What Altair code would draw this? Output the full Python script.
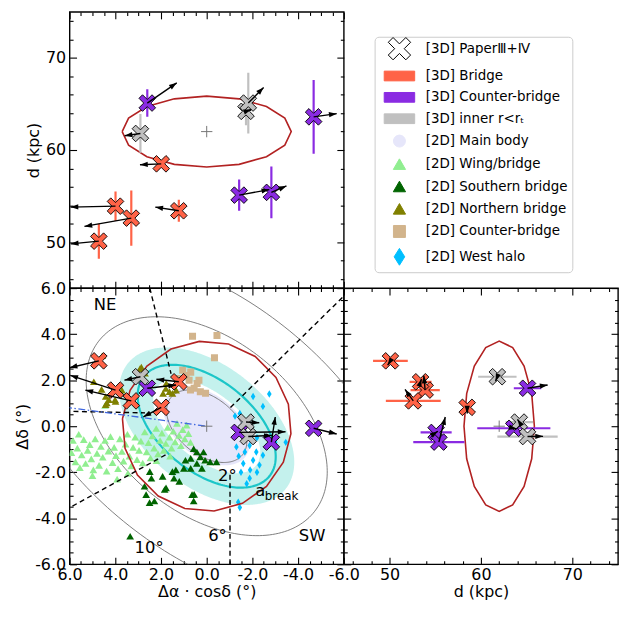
import numpy as np
import pandas as pd
import altair as alt

FONT = "DejaVu Sans"
W, H = 276, 278

TOMATO = "#ff6347"; VIOLET = "#8a2be2"; SILVER = "#c0c0c0"
LAVENDER = "#e6e6fa"; LGREEN = "#90ee90"; DGREEN = "#006400"; OLIVE = "#808000"
TAN = "#d2b48c"; SKY = "#00bfff"; BAND = "#c4f1ed"; TEAL = "#1cc6c8"; FIRE = "#b22222"
GRAYL = "#707070"

# ---------------- 3D stars ----------------
star_group = ["Bridge"] * 5 + ["Counter"] * 4 + ["Inner"] * 3
star_ra = [1.99, 3.99, 3.30, 4.72, 1.22, 2.60, -1.42, -2.83, -4.68, 2.90, -1.72, -1.82]
star_dec = [0.82, 1.57, 1.10, 2.84, 1.93, 1.65, -0.27, -0.69, -0.09, 2.15, 0.18, -0.45]
star_d = [58.5, 53.9, 52.6, 50.1, 53.4, 65.1, 55.1, 55.4, 63.6, 61.8, 64.2, 65.1]
star_derr = [0.4, 1.6, 3.0, 1.9, 1.2, 1.5, 1.7, 2.8, 4.0, 2.1, 1.5, 3.3]

# arrow ends per panel
tl_ra_end = [2.92, 5.96, 5.35, 5.95, 2.25, 1.31, -2.74, -3.49, -5.69, 3.59, -1.95, -2.49]
tl_d_end = [58.4, 53.8, 51.7, 49.8, 53.8, 67.3, 55.7, 56.1, 63.95, 61.55, 64.4, 66.8]
bl_ra_end = [2.77, 5.97, 5.31, 6.0, 2.20, 1.34, -3.45, -3.00, -5.69, 3.60, -2.30, -2.85]
bl_dec_end = [0.41, 2.21, 1.57, 2.54, 2.04, 1.79, -0.24, 0.40, -0.34, 2.00, 0.15, -0.40]
br_d_end = [58.5, 53.75, 51.7, 49.8, 53.5, 67.3, 55.3, 56.1, 63.9, 61.6, 64.0, 66.8]
br_dec_end = [0.55, 2.20, 1.60, 2.65, 2.05, 1.79, -0.22, 0.40, -0.12, 1.95, 0.30, -0.44]

group_color = {"Bridge": TOMATO, "Counter": VIOLET, "Inner": SILVER}

# ---------------- 2D populations (Δα, Δδ) ----------------
wing_pts = [(5.92, -1.15), (5.85, -0.62), (5.74, -1.55), (5.66, -0.95), (5.55, -1.80), (5.47, -1.25),
            (5.38, -0.58), (5.30, -1.62), (5.21, -1.05), (5.12, -0.80), (5.05, -1.42), (4.96, -1.90),
            (4.88, -0.55), (4.80, -1.18), (4.71, -1.70), (4.63, -0.88), (4.55, -1.35), (4.45, -0.62),
            (4.38, -1.95), (4.30, -1.08), (4.21, -0.45), (4.12, -1.58), (4.05, -0.92), (3.97, -1.28),
            (3.88, -1.85), (3.80, -0.55), (3.71, -1.10), (3.64, -1.52), (3.55, -0.78), (3.47, -0.35),
            (3.38, -1.30), (3.30, -1.72), (3.22, -0.92), (3.13, -0.48), (3.05, -1.45), (2.96, -1.05),
            (2.88, -0.65), (2.80, -1.60), (2.71, -0.25), (2.63, -1.12), (2.55, -0.72), (2.46, -1.38),
            (2.38, -0.42), (2.30, -0.95), (2.21, -0.10), (2.13, -1.20), (2.04, -0.62), (1.96, -0.30),
            (1.88, -1.05), (1.79, -0.75), (1.71, -0.05), (1.63, -0.48), (1.54, -0.95), (1.46, -0.22),
            (1.38, -0.68), (1.30, 0.12), (1.21, -0.40), (1.13, -0.85), (1.05, -0.15), (0.96, -0.55),
            (0.88, 0.05), (0.80, -0.32), (0.71, -0.70), (4.45, 0.90), (5.60, -0.35), (3.92, -2.30),
            (2.20, -1.50), (1.60, -1.30), (5.00, -2.15), (3.45, -2.05)]
south_pts = [(2.49, -1.97), (2.72, -2.61), (2.65, -2.97), (2.50, -3.32), (2.29, -3.25), (1.93, -2.18),
             (1.78, -2.68), (1.50, -1.97), (1.35, -1.90), (1.43, -2.26), (1.00, -1.83), (0.93, -1.48),
             (0.57, -0.98), (0.43, -1.12), (0.28, -1.33), (0.14, -1.12), (0.07, -1.48), (-0.15, -1.55),
             (-0.43, -1.55), (0.64, -2.97), (0.57, -3.25), (0.21, -1.83), (0.43, -1.62), (3.35, -4.78),
             (1.84, -2.75), (1.20, -2.40), (0.55, -2.96), (0.70, -1.83), (2.42, -2.26), (0.70, -1.40)]
north_pts = [(4.94, 1.93), (4.37, 1.01), (4.01, 1.15), (2.86, 2.57), (1.79, 1.64), (1.50, 1.43),
             (4.57, 3.06), (4.28, 1.15), (3.99, 1.08), (4.42, 0.94), (2.92, 2.50), (1.77, 1.86),
             (1.63, 1.50), (1.91, 1.43), (1.34, 1.57), (4.42, 1.29), (3.71, 1.57), (4.60, 1.60),
             (2.70, 2.30)]
cbridge_pts = [(0.62, 3.91), (-0.45, 3.94), (-0.34, 2.97), (1.05, 2.43), (0.70, 2.35), (0.34, 2.00),
               (0.55, 1.65), (0.05, 1.43), (0.77, 2.00), (1.27, 2.07), (0.42, 1.86), (0.28, 1.50),
               (0.71, 1.57), (0.90, 2.20)]
halo_pts = [(-1.24, 0.44), (-1.45, 0.55), (-2.03, 1.29), (-2.74, 1.40), (-2.46, 0.86), (-1.60, 0.10),
            (-1.70, -0.30), (-1.88, -0.84), (-2.17, -1.12), (-1.67, -1.12), (-2.03, -1.48),
            (-2.31, -1.69), (-1.60, -1.62), (-1.88, -2.26), (-2.46, -1.26), (-3.46, -0.70),
            (-1.45, -3.53), (-1.38, -3.30), (-1.90, -1.90), (-2.20, -2.00), (-1.30, -0.90),
            (-1.40, -1.30), (-2.20, -0.50), (-2.60, -0.90), (-3.00, -0.70), (-1.50, -2.00),
            (-1.75, -2.50)]

# ---------------- model curves (parameters) ----------------
ELL_PA = 38.0
gray_ell = {"2": (2.0, 1.25), "6": (6.0, 3.8), "10": (10.0, 5.5)}
abreak_ab = (3.5, 2.0)
band_outer_ab = (4.4, 2.65)
band_inner_ab = (2.75, 1.45)
body_ab = (2.15, 1.35)
RT_DEG, RT_KPC, D0 = 3.7, 3.85, 62.0

dash_segments = {"a": [(2.49, 6.0), (1.56, 2.28)], "b": [(-6.2, 5.85), (-1.02, 0.79)],
                 "c": [(6.2, -3.65), (1.70, -1.19)], "d": [(6.2, 0.65), (2.70, 0.58)],
                 "e": [(-1.02, -2.11), (-1.02, -6.2)]}
blue_line = [(6.2, 0.83), (0.0, 0.0)]

annot_text = ["NE", "SW", "2°", "6°", "10°"]
annot_x = [4.45, -4.61, -0.90, -0.47, 2.52]
annot_y = [5.26, -4.79, -2.18, -4.77, -5.28]

# tick values
ang_major = [-6, -4, -2, 0, 2, 4, 6]
ang_minor = [v / 2 for v in range(-12, 13) if v % 4 != 0]
d_major = [50, 60, 70]
d_minor = [v for v in range(46, 75, 2) if v % 10 != 0]

# ---------------- helpers ----------------
def ellipse_line(cx, cy, a, b, pa, n, start=0.0):
    t = np.deg2rad(start) + np.linspace(0, 2 * np.pi, n + 1)
    p = np.deg2rad(pa)
    x = cx + a * np.cos(t) * np.cos(p) - b * np.sin(t) * np.sin(p)
    y = cy + a * np.cos(t) * np.sin(p) + b * np.sin(t) * np.cos(p)
    return x, y


def ellipse_band(cx, cy, a, b, pa, n=220):
    p = np.deg2rad(pa); c, s = np.cos(p), np.sin(p)
    xmax = np.sqrt(a * a * c * c + b * b * s * s)
    X = xmax * np.cos(np.linspace(np.pi, 0, n))
    A = s * s / a ** 2 + c * c / b ** 2
    B = 2 * X * c * s * (1 / a ** 2 - 1 / b ** 2)
    C = X * X * (c * c / a ** 2 + s * s / b ** 2) - 1
    disc = np.clip(B * B - 4 * A * C, 0, None)
    return cx + X, cy + (-B - np.sqrt(disc)) / (2 * A), cy + (-B + np.sqrt(disc)) / (2 * A)


def xpath(k):
    pts = [(-0.566, 0.99), (0, 0.424), (0.566, 0.99), (0.99, 0.566), (0.424, 0), (0.99, -0.566),
           (0.566, -0.99), (0, -0.424), (-0.566, -0.99), (-0.99, -0.566), (-0.424, 0), (-0.99, 0.566)]
    return "M" + "L".join(f"{x * k:.3f},{y * k:.3f}" for x, y in pts) + "Z"


X_SHAPE = xpath(1.0)
HEAD = "M0,0L0.6,1.75L-0.6,1.75Z"
PLUS = "M-1,0L1,0M0,-1L0,1"
DIAM = "M0,-1L0.62,0L0,1L-0.62,0Z"


def head_angle(x0, y0, x1, y1, kx, ky):
    dxp = (np.asarray(x1) - np.asarray(x0)) * kx
    dyp = (np.asarray(y1) - np.asarray(y0)) * ky
    return np.mod(np.degrees(np.arctan2(dxp, -dyp)), 360)


def axis(orient, values, size, labels=False, title=None, expr=None):
    kw = dict(orient=orient, values=values, tickSize=size, offset=-size, domain=False, grid=False,
              ticks=True, tickColor="black", tickWidth=1.1, labels=labels, labelOverlap=False,
              labelFlush=False, labelPadding=2 if orient == "bottom" else 4, title=title,
              titlePadding=1 if orient == "bottom" else 4, minExtent=0, maxExtent=200)
    if labels and expr:
        kw["labelExpr"] = expr
    return alt.Axis(**kw)


def frame_axes(xs, ys, xmaj, xmin, ymaj, ymin, xlab, ylab, xtitle, ytitle, xexpr, yexpr):
    d = pd.DataFrame({"x": [xmaj[1]], "y": [ymaj[1]]})
    out = []
    specs = [("bottom", "left", xmaj, ymaj, 7, True), ("top", "right", xmaj, ymaj, 7, False),
             ("bottom", "left", xmin, ymin, 3.5, False), ("top", "right", xmin, ymin, 3.5, False)]
    for xo, yo, vx, vy, sz, main in specs:
        out.append(alt.Chart(d).mark_point(opacity=0).encode(
            x=alt.X("x:Q", scale=xs, axis=axis(xo, vx, sz, main and xlab, xtitle if main else None, xexpr)),
            y=alt.Y("y:Q", scale=ys, axis=axis(yo, vy, sz, main and ylab, ytitle if main else None, yexpr))))
    return out


SX_A = alt.Scale(domain=[-6, 6], reverse=True, nice=False, zero=False)
SY_D = alt.Scale(domain=[45, 75], nice=False, zero=False)
SY_A = alt.Scale(domain=[-6, 6], nice=False, zero=False)
SX_D = alt.Scale(domain=[45, 75], nice=False, zero=False)

FMT1 = "datum.value < 0 ? '-' + format(-datum.value, '.1f') : format(datum.value, '.1f')"
FMT0 = "format(datum.value, 'd')"

stars = pd.DataFrame({"g": star_group, "ra": star_ra, "dec": star_dec, "d": star_d, "de": star_derr})
stars["col"] = stars["g"].map(group_color)
stars["dlo"] = stars["d"] - stars["de"]
stars["dhi"] = stars["d"] + stars["de"]
stars["tl_ra1"] = tl_ra_end; stars["tl_d1"] = tl_d_end
stars["bl_ra1"] = bl_ra_end; stars["bl_dec1"] = bl_dec_end
stars["br_d1"] = br_d_end; stars["br_dec1"] = br_dec_end
stars["tl_ang"] = head_angle(stars.ra, stars.d, stars.tl_ra1, stars.tl_d1, -W / 12, -H / 30)
stars["bl_ang"] = head_angle(stars.ra, stars.dec, stars.bl_ra1, stars.bl_dec1, -W / 12, -H / 12)
stars["br_ang"] = head_angle(stars.d, stars.dec, stars.br_d1, stars.br_dec1, W / 30, -H / 12)


def X(f, s, t="Q"):
    return alt.X(f"{f}:{t}", scale=s, axis=None)


def Y(f, s, t="Q"):
    return alt.Y(f"{f}:{t}", scale=s, axis=None)


def cross_layer(xf, yf, xs, ys):
    return alt.Chart(stars).mark_point(shape=X_SHAPE, filled=True, size=285, stroke="black",
                                       strokeWidth=0.9, opacity=1).encode(
        x=X(xf, xs), y=Y(yf, ys), fill=alt.Fill("col:N", scale=None))


def arrow_layers(x0, y0, x1, y1, ang, xs, ys):
    rule = alt.Chart(stars).mark_rule(color="black", strokeWidth=1.4, clip=True).encode(
        x=X(x0, xs), y=Y(y0, ys), x2=alt.X2(x1), y2=alt.Y2(y1))
    head = alt.Chart(stars).mark_point(shape=HEAD, filled=True, size=80, color="black", opacity=1,
                                       clip=True).encode(
        x=X(x1, xs), y=Y(y1, ys), angle=alt.Angle(f"{ang}:Q", scale=None))
    return [rule, head]


def plus_layer(xv, yv, xs, ys):
    return alt.Chart(pd.DataFrame({"x": [xv], "y": [yv]})).mark_point(
        shape=PLUS, size=130, stroke="#777777", strokeWidth=1, filled=False, opacity=1).encode(
        x=X("x", xs), y=Y("y", ys))


def poly_line(xv, yv, xs, ys, color, width):
    df = pd.DataFrame({"x": xv, "y": yv, "i": np.arange(len(xv))})
    return alt.Chart(df).mark_line(color=color, strokeWidth=width, clip=True).encode(
        x=X("x", xs), y=Y("y", ys), order="i:Q")


# ---------------- top-left: Δα vs d ----------------
ex, ey = ellipse_line(0.0, D0, RT_DEG, RT_KPC, 0.0, 16)
tl_layers = [
    poly_line(ex, ey, SX_A, SY_D, FIRE, 1.6),
    plus_layer(0.0, D0, SX_A, SY_D),
    alt.Chart(stars).mark_rule(strokeWidth=2.2, clip=True).encode(
        x=X("ra", SX_A), y=Y("dlo", SY_D), y2=alt.Y2("dhi"), color=alt.Color("col:N", scale=None)),
    cross_layer("ra", "d", SX_A, SY_D),
    *arrow_layers("ra", "d", "tl_ra1", "tl_d1", "tl_ang", SX_A, SY_D),
    *frame_axes(SX_A, SY_D, ang_major, ang_minor, d_major, d_minor, False, True, None, "d (kpc)",
                FMT1, FMT0),
]
TL = alt.layer(*tl_layers).resolve_axis(x="independent", y="independent").properties(width=W, height=H)

# ---------------- bottom-left: Δα vs Δδ ----------------
def band_df(a, b):
    x, lo, hi = ellipse_band(0.0, 0.0, a, b, ELL_PA)
    return pd.DataFrame({"x": x, "lo": lo, "hi": hi})


def area_layer(a, b, color):
    return alt.Chart(band_df(a, b)).mark_area(color=color, opacity=1, clip=True).encode(
        x=X("x", SX_A), y=Y("lo", SY_A), y2=alt.Y2("hi"))


gray_rows = []
for name, (a, b) in gray_ell.items():
    gx, gy = ellipse_line(0.0, 0.0, a, b, ELL_PA, 200)
    gray_rows.append(pd.DataFrame({"x": gx, "y": gy, "i": np.arange(len(gx)), "k": name}))
gray_df = pd.concat(gray_rows)
tx, ty = ellipse_line(0.0, 0.0, abreak_ab[0], abreak_ab[1], ELL_PA, 200)
rx, ry = ellipse_line(0.0, 0.0, RT_DEG, RT_DEG, 0.0, 18, start=5.0)

dash_rows = []
for k, seg in dash_segments.items():
    for i, (x, y) in enumerate(seg):
        dash_rows.append({"x": x, "y": y, "i": i, "k": k})
dash_df = pd.DataFrame(dash_rows)
blue_df = pd.DataFrame({"x": [p[0] for p in blue_line], "y": [p[1] for p in blue_line], "i": [0, 1]})


def pts_df(pts):
    return pd.DataFrame({"x": [p[0] for p in pts], "y": [p[1] for p in pts]})


def scatter(pts, shape, color, size):
    return alt.Chart(pts_df(pts)).mark_point(shape=shape, filled=True, size=size, color=color,
                                             opacity=1, strokeWidth=0, clip=True).encode(
        x=X("x", SX_A), y=Y("y", SY_A))


annot = pd.DataFrame({"t": annot_text, "x": annot_x, "y": annot_y})
ab = pd.DataFrame({"x": [-2.13], "y": [-2.81]})

bl_layers = [
    area_layer(*band_outer_ab, BAND),
    area_layer(*band_inner_ab, "white"),
    area_layer(*body_ab, LAVENDER),
    alt.Chart(gray_df).mark_line(color=GRAYL, strokeWidth=0.9, clip=True).encode(
        x=X("x", SX_A), y=Y("y", SY_A), detail="k:N", order="i:Q"),
    poly_line(tx, ty, SX_A, SY_A, TEAL, 2.2),
    scatter(wing_pts, "triangle-up", LGREEN, 60),
    scatter(south_pts, "triangle-up", DGREEN, 60),
    scatter(north_pts, "triangle-up", OLIVE, 60),
    scatter(cbridge_pts, "square", TAN, 50),
    scatter(halo_pts, DIAM, SKY, 55),
    poly_line(rx, ry, SX_A, SY_A, FIRE, 1.6),
    alt.Chart(dash_df).mark_line(color="black", strokeWidth=1.4, strokeDash=[5, 3.5], clip=True).encode(
        x=X("x", SX_A), y=Y("y", SY_A), detail="k:N", order="i:Q"),
    alt.Chart(blue_df).mark_line(color="#4169e1", strokeWidth=1.3, strokeDash=[7, 2.5, 1.5, 2.5],
                                 clip=True).encode(x=X("x", SX_A), y=Y("y", SY_A), order="i:Q"),
    plus_layer(0.0, 0.0, SX_A, SY_A),
    alt.Chart(annot).mark_text(font=FONT, fontSize=16.5, color="black", align="center",
                               baseline="middle").encode(x=X("x", SX_A), y=Y("y", SY_A), text="t:N"),
    alt.Chart(ab).mark_text(font=FONT, fontSize=16.5, color="black", align="left", baseline="middle",
                            text="a").encode(x=X("x", SX_A), y=Y("y", SY_A)),
    alt.Chart(ab).mark_text(font=FONT, fontSize=12, color="black", align="left", baseline="middle",
                            text="break", dx=9.5, dy=5.5).encode(x=X("x", SX_A), y=Y("y", SY_A)),
    cross_layer("ra", "dec", SX_A, SY_A),
    *arrow_layers("ra", "dec", "bl_ra1", "bl_dec1", "bl_ang", SX_A, SY_A),
    *frame_axes(SX_A, SY_A, ang_major, ang_minor, ang_major, ang_minor, True, True,
                "Δα · cosδ (°)", "Δδ (°)", FMT1, FMT1),
]
BL = alt.layer(*bl_layers).resolve_axis(x="independent", y="independent").properties(width=W, height=H)

# ---------------- bottom-right: d vs Δδ ----------------
bx, by = ellipse_line(D0, 0.0, RT_KPC, RT_DEG, 0.0, 16)
br_layers = [
    poly_line(bx, by, SX_D, SY_A, FIRE, 1.6),
    plus_layer(D0, 0.0, SX_D, SY_A),
    alt.Chart(stars).mark_rule(strokeWidth=2.2, clip=True).encode(
        x=X("dlo", SX_D), x2=alt.X2("dhi"), y=Y("dec", SY_A), color=alt.Color("col:N", scale=None)),
    cross_layer("d", "dec", SX_D, SY_A),
    *arrow_layers("d", "dec", "br_d1", "br_dec1", "br_ang", SX_D, SY_A),
    *frame_axes(SX_D, SY_A, d_major, d_minor, ang_major, ang_minor, True, False, "d (kpc)", None,
                FMT0, FMT1),
]
BR = alt.layer(*br_layers).resolve_axis(x="independent", y="independent").properties(width=W, height=H)

# ---------------- legend cell ----------------
leg_labels = ["[3D] PaperⅢ+Ⅳ", "[3D] Bridge", "[3D] Counter-bridge", "[3D] inner r<rₜ",
              "[2D] Main body", "[2D] Wing/bridge", "[2D] Southern bridge", "[2D] Northern bridge",
              "[2D] Counter-bridge", "[2D] West halo"]
leg_fill = ["white", TOMATO, VIOLET, SILVER, LAVENDER, LGREEN, DGREEN, OLIVE, TAN, SKY]
leg_stroke = ["black", TOMATO, VIOLET, SILVER, LAVENDER, LGREEN, DGREEN, OLIVE, TAN, SKY]
PATCH = "M-2.19,-0.7L2.19,-0.7L2.19,0.7L-2.19,0.7Z"
CIRC = "M0,-0.86A0.86,0.86 0 1,1 0,0.86A0.86,0.86 0 1,1 0,-0.86Z"
TRI = "M0,-0.8L0.88,0.72L-0.88,0.72Z"
SQ = "M-0.86,-0.86L0.86,-0.86L0.86,0.86L-0.86,0.86Z"
LDIAM = "M0,-1.21L0.76,0L0,1.21L-0.76,0Z"
leg_shape = [xpath(1.62), PATCH, PATCH, PATCH, CIRC, TRI, TRI, TRI, SQ, LDIAM]

LEGEND = alt.Legend(title=None, orient="none", legendX=31, legendY=25, padding=4.5, symbolOffset=13,
                    symbolSize=196, labelOffset=19, rowPadding=6.5, labelFontSize=13.5, labelFont=FONT,
                    labelColor="black", strokeColor="#cccccc", fillColor="white", cornerRadius=4,
                    symbolStrokeWidth=1, labelLimit=300)
leg_df = pd.DataFrame({"label": leg_labels})
LEG = alt.Chart(leg_df).mark_point(filled=True, opacity=1, clip=True).encode(
    x=alt.value(-60), y=alt.value(-60),
    shape=alt.Shape("label:N", scale=alt.Scale(domain=leg_labels, range=leg_shape), legend=LEGEND),
    fill=alt.Fill("label:N", scale=alt.Scale(domain=leg_labels, range=leg_fill), legend=LEGEND),
    stroke=alt.Stroke("label:N", scale=alt.Scale(domain=leg_labels, range=leg_stroke), legend=LEGEND),
).properties(width=W, height=H, view=alt.ViewBackground(strokeOpacity=0))

chart = alt.concat(TL, LEG, BL, BR, columns=2, spacing=0, bounds="flush").resolve_scale(
    shape="independent", fill="independent", stroke="independent"
).properties(padding={"left": 6, "top": 0, "right": 0, "bottom": 0}).configure_view(
    stroke="black", strokeWidth=1.4
).configure_axis(
    labelFont=FONT, titleFont=FONT, labelFontSize=16, titleFontSize=16, titleFontWeight="normal",
    labelColor="black", titleColor="black"
)

chart.save("out.html", embed_options={"renderer": "svg", "actions": False})
